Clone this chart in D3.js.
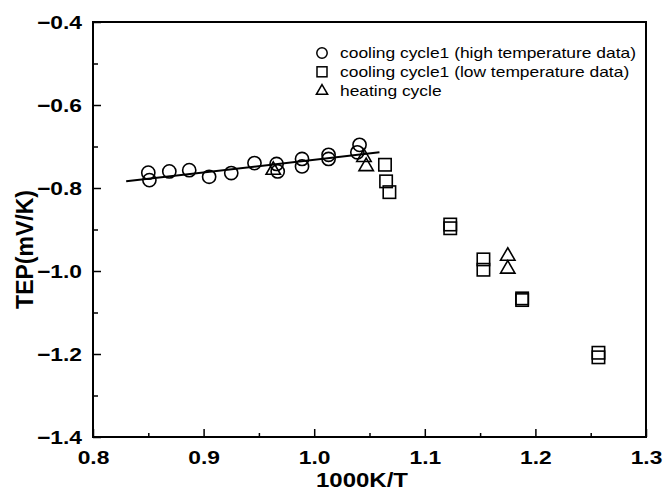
<!DOCTYPE html>
<html lang="en">
<head>
<meta charset="UTF-8">
<title>TEP vs 1000K/T</title>
<script src="https://cdnjs.cloudflare.com/ajax/libs/d3/7.8.5/d3.min.js"></script>
<style>
html,body {margin:0;padding:0;background:#fff;}
svg {display:block;font-family:"Liberation Sans",Arial,sans-serif;}
.tick line {stroke:#000;stroke-width:1.5;}
.domain {display:none;}
</style>
</head>
<body>
<div id="chart"></div>
<script>
// cooling cycle1, high temperature data
const highX = [0.850, 0.851, 0.869, 0.887, 0.905, 0.925, 0.946, 0.966, 0.967, 0.989, 0.989, 1.013, 1.013, 1.041, 1.039];
const highY = [-0.763, -0.781, -0.760, -0.757, -0.773, -0.764, -0.740, -0.742, -0.760, -0.730, -0.748, -0.720, -0.730, -0.696, -0.714];
// cooling cycle1, low temperature data
const lowX = [1.064, 1.065, 1.068, 1.123, 1.123, 1.153, 1.153, 1.188, 1.188, 1.257, 1.257];
const lowY = [-0.744, -0.784, -0.810, -0.888, -0.897, -0.972, -0.997, -1.066, -1.070, -1.197, -1.208];
// heating cycle
const heatX = [0.963, 1.045, 1.047, 1.175, 1.175];
const heatY = [-0.757, -0.726, -0.748, -0.964, -0.995];
// fitted line
const fitX = [0.830, 1.059];
const fitY = [-0.784, -0.714];

const xTicks = [0.8, 0.9, 1.0, 1.1, 1.2, 1.3];
const xMinor = [0.85, 0.95, 1.05, 1.15, 1.25];
const yTicks = [-1.4, -1.2, -1.0, -0.8, -0.6, -0.4];
const yMinor = [-1.3, -1.1, -0.9, -0.7, -0.5];
const legendLabels = ["cooling cycle1 (high temperature data)", "cooling cycle1 (low temperature data)", "heating cycle"];

const W = 663, H = 491;
const m = {top: 22, right: 17, bottom: 54, left: 93};
const iw = W - m.left - m.right, ih = H - m.top - m.bottom;
const squeeze = 1.2; // the scan is wider than it is tall

const svg = d3.select('#chart').append('svg').attr('width', W).attr('height', H);
const g = svg.append('g').attr('transform', 'translate(' + m.left + ',' + m.top + ')');

const x = d3.scaleLinear().domain([0.8, 1.3]).range([0, iw]);
const y = d3.scaleLinear().domain([-1.4, -0.4]).range([ih, 0]);

function widen(sel) {
	sel.each(function () {
		const len = this.getComputedTextLength();
		d3.select(this).attr('textLength', len * squeeze).attr('lengthAdjust', 'spacingAndGlyphs');
	});
}

// axes, ticks pointing inward
const gx = g.append('g').attr('transform', 'translate(0,' + ih + ')')
	.call(d3.axisBottom(x).tickValues(xTicks).tickSize(-8).tickPadding(14).tickFormat(d3.format('.1f')));
g.append('g').attr('transform', 'translate(0,' + ih + ')')
	.call(d3.axisBottom(x).tickValues(xMinor).tickSize(-4).tickFormat(''));
const gy = g.append('g')
	.call(d3.axisLeft(y).tickValues(yTicks).tickSize(-8).tickPadding(11).tickFormat(d3.format('.1f')));
g.append('g')
	.call(d3.axisLeft(y).tickValues(yMinor).tickSize(-5).tickFormat(''));

g.selectAll('.tick text').attr('fill', '#000').attr('font-size', 19).attr('font-weight', 'bold');
gx.selectAll('.tick text').attr('dy', '0.71em');
widen(g.selectAll('.tick text'));

g.append('rect').attr('width', iw).attr('height', ih)
	.attr('fill', 'none').attr('stroke', '#000').attr('stroke-width', 2);

// axis titles
const xt = svg.append('text').attr('x', 362).attr('y', 487).attr('text-anchor', 'middle')
	.attr('font-size', 20).attr('font-weight', 'bold').text('1000K/T');
widen(xt);
svg.append('text').attr('transform', 'translate(33,' + (m.top + ih / 2 + 20) + ') rotate(-90)')
	.attr('text-anchor', 'middle').attr('font-size', 23).attr('font-weight', 'bold').text('TEP(mV/K)');

// fitted line
g.append('path').datum(d3.zip(fitX, fitY))
	.attr('d', d3.line().x(d => x(d[0])).y(d => y(d[1])))
	.attr('fill', 'none').attr('stroke', '#000').attr('stroke-width', 2);

const mk = {fill: 'none', stroke: '#000', sw: 1.6};
const tri = d3.symbol().type(d3.symbolTriangle).size(90);

g.selectAll('.high').data(d3.zip(highX, highY)).join('circle')
	.attr('cx', d => x(d[0])).attr('cy', d => y(d[1])).attr('r', 6.6)
	.attr('fill', mk.fill).attr('stroke', mk.stroke).attr('stroke-width', mk.sw);

g.selectAll('.low').data(d3.zip(lowX, lowY)).join('rect')
	.attr('x', d => x(d[0]) - 6.2).attr('y', d => y(d[1]) - 6.2)
	.attr('width', 12.4).attr('height', 12.4)
	.attr('fill', mk.fill).attr('stroke', mk.stroke).attr('stroke-width', mk.sw);

g.selectAll('.heat').data(d3.zip(heatX, heatY)).join('path')
	.attr('d', tri)
	.attr('transform', d => 'translate(' + x(d[0]) + ',' + y(d[1]) + ')')
	.attr('fill', mk.fill).attr('stroke', mk.stroke).attr('stroke-width', mk.sw);

// legend
const lg = svg.append('g').attr('transform', 'translate(322,53)');
legendLabels.forEach(function (lab, i) {
	const row = lg.append('g').attr('transform', 'translate(0,' + (i * 18.8) + ')');
	if (i === 0) row.append('circle').attr('r', 5.2);
	if (i === 1) row.append('rect').attr('x', -5).attr('y', -5).attr('width', 10).attr('height', 10);
	if (i === 2) row.append('path').attr('d', d3.symbol().type(d3.symbolTriangle).size(55)).attr('transform', 'translate(0,0.5)');
	row.selectAll('circle,rect,path').attr('fill', 'none').attr('stroke', '#000').attr('stroke-width', 1.5);
	const t = row.append('text').attr('x', 18).attr('y', 5).attr('font-size', 14.5).text(lab);
	widen(t);
});
</script>
</body>
</html>
